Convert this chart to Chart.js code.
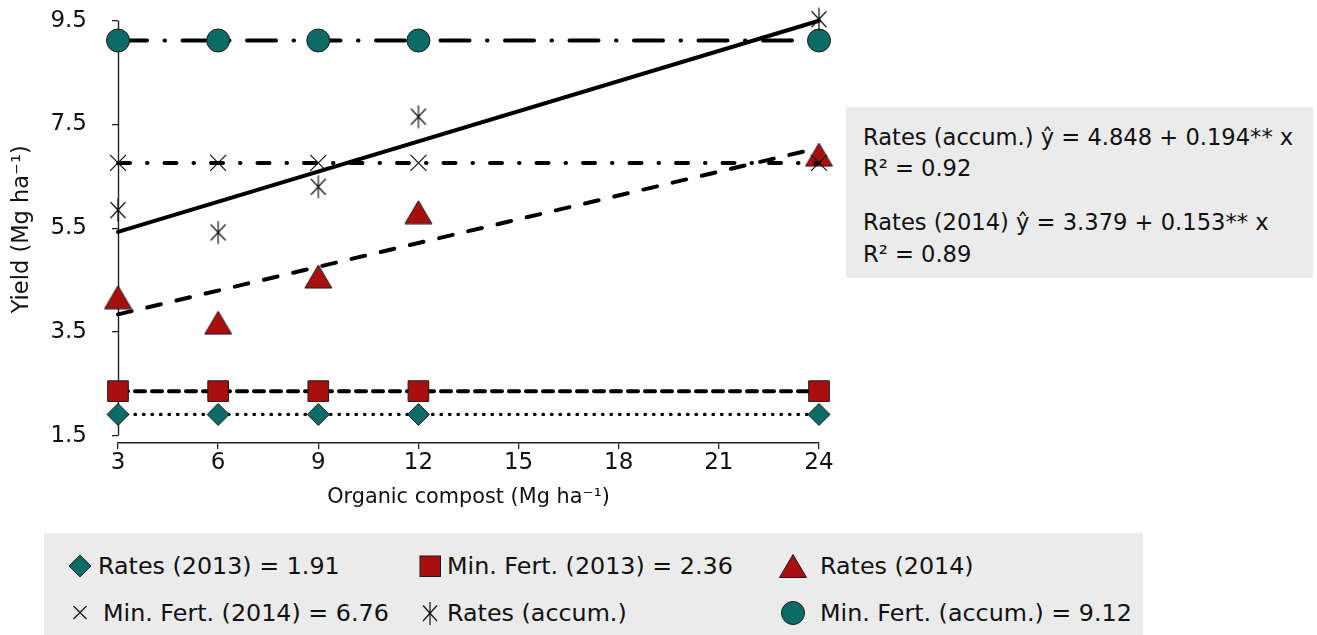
<!DOCTYPE html>
<html><head><meta charset="utf-8">
<script src="https://cdn.jsdelivr.net/npm/chart.js@4.4.1/dist/chart.umd.min.js"></script>
<style>
html,body{margin:0;padding:0;background:#fff;width:1317px;height:635px;overflow:hidden;font-family:"DejaVu Sans",sans-serif;color:#111;}
#c{position:absolute;left:0;top:0;}
.box{position:absolute;background:#ebebeb;}
.t{position:absolute;white-space:nowrap;font-size:22.6px;line-height:30px;color:#111;}
.lg{position:absolute;white-space:nowrap;font-size:23.8px;line-height:30px;color:#111;}
svg{position:absolute;left:0;top:0;}
</style></head>
<body>
<canvas id="c" width="1317" height="635"></canvas>
<div class="box" style="left:846px;top:107px;width:467px;height:171px"></div>
<div class="box" style="left:44px;top:533px;width:1099px;height:102px"></div>
<div id="txt"></div>
<svg width="1317" height="635" id="legsvg"></svg>
<script>
// ---- data ----
const compostRates = [3, 6, 9, 12, 24];
const xTickStep = 3;
const yTicks = [1.5, 3.5, 5.5, 7.5, 9.5];
const rates2013 = [1.91, 1.91, 1.91, 1.91, 1.91];
const minFert2013 = [2.36, 2.36, 2.36, 2.36, 2.36];
const rates2014 = [4.17, 3.68, 4.57, 5.81, 6.92];
const minFert2014 = [6.76, 6.76, 6.76, 6.76, 6.76];
const ratesAccum = [5.85, 5.42, 6.30, 7.65, 9.53];
const minFertAccum = [9.12, 9.12, 9.12, 9.12, 9.12];
const trendX = [3, 24];
const trendAccum = [5.43, 9.50];
const trend2014 = [3.84, 7.05];
const eqLines = ["Rates (accum.) \u0177 = 4.848 + 0.194** x", "R\u00b2 = 0.92", "Rates (2014) \u0177 = 3.379 + 0.153** x", "R\u00b2 = 0.89"];
const legendLabels = ["Rates (2013) = 1.91", "Min. Fert. (2013) = 2.36", "Rates (2014)", "Min. Fert. (2014) = 6.76", "Rates (accum.)", "Min. Fert. (accum.) = 9.12"];
const xTitle = "Organic compost (Mg ha\u207b\u00b9)";
const yTitle = "Yield (Mg ha\u207b\u00b9)";

const TEAL = '#0c6b66', RED = '#a90f0f', EDGE = '#1c1c1c', INK = '#111';
const FONT = '"DejaVu Sans", sans-serif';

function pts(xs, ys){ return xs.map((x,i)=>({x:x, y:ys[i]})); }

function makeTri(w,h,fill){
  const c=document.createElement('canvas'); c.width=w+2; c.height=h+2;
  const g=c.getContext('2d');
  g.beginPath(); g.moveTo((w+2)/2,1); g.lineTo(w+1,h+1); g.lineTo(1,h+1); g.closePath();
  g.fillStyle=fill; g.fill(); g.lineWidth=1; g.strokeStyle=EDGE; g.stroke();
  return c;
}
function makeAst(){
  const c=document.createElement('canvas'); c.width=18; c.height=26;
  const g=c.getContext('2d'); g.strokeStyle=INK; g.lineWidth=1.2;
  g.beginPath(); g.moveTo(9,1.5); g.lineTo(9,24.5);
  g.moveTo(1.5,5); g.lineTo(16.5,21); g.moveTo(16.5,5); g.lineTo(1.5,21); g.stroke();
  return c;
}
const triImg = makeTri(27,23,RED);
const astImg = makeAst();

const axisLine = {
  id:'axisLine',
  beforeDatasetsDraw(chart){
    const xs=chart.scales.x, ys=chart.scales.y, ctx=chart.ctx;
    const px=Math.round(xs.getPixelForValue(compostRates[0]))+0.5;
    ctx.save(); ctx.strokeStyle='#222'; ctx.lineWidth=1.4;
    ctx.beginPath();
    ctx.moveTo(px, ys.getPixelForValue(yTicks[yTicks.length-1]));
    ctx.lineTo(px, ys.getPixelForValue(yTicks[0]));
    ctx.stroke(); ctx.restore();
  }
};

const common = {clip:false, fill:false, tension:0, borderCapStyle:'round'};
const datasets = [
  Object.assign({label:legendLabels[3], data:pts(compostRates,minFert2014), borderColor:'#000', borderWidth:4, borderDash:[12,17,0.5,17],
    pointStyle:'crossRot', pointRadius:11.3, pointBorderColor:INK, pointBorderWidth:1.2, pointBackgroundColor:'rgba(0,0,0,0)'}, common),
  Object.assign({label:legendLabels[4], data:pts(compostRates,ratesAccum), showLine:false,
    pointStyle:astImg, pointRadius:12}, common),
  Object.assign({label:legendLabels[5], data:pts(compostRates,minFertAccum), borderColor:'#000', borderWidth:4, borderDash:[29,17.5,0.5,17.5],
    pointStyle:'circle', pointRadius:11.5, pointBackgroundColor:TEAL, pointBorderColor:EDGE, pointBorderWidth:1}, common),
  Object.assign({label:legendLabels[2], data:pts(compostRates,rates2014), showLine:false,
    pointStyle:triImg, pointRadius:13}, common),
  Object.assign({label:legendLabels[1], data:pts(compostRates,minFert2013), borderColor:'#000', borderWidth:4, borderDash:[10,7],
    pointStyle:'rect', pointRadius:14.6, pointBackgroundColor:RED, pointBorderColor:EDGE, pointBorderWidth:1}, common),
  Object.assign({label:legendLabels[0], data:pts(compostRates,rates2013), borderColor:'#000', borderWidth:3.3, borderDash:[0.5,8],
    pointStyle:'rectRot', pointRadius:11, pointBackgroundColor:TEAL, pointBorderColor:EDGE, pointBorderWidth:1}, common),
  Object.assign({label:'trend accum', data:pts(trendX,trendAccum), borderColor:'#000', borderWidth:4, pointRadius:0}, common),
  Object.assign({label:'trend 2014', data:pts(trendX,trend2014), borderColor:'#000', borderWidth:4, borderDash:[14,16], pointRadius:0}, common)
];

const chart = new Chart(document.getElementById('c'), {
  type:'line',
  data:{datasets:datasets},
  options:{
    responsive:false, animation:false, devicePixelRatio:1,
    layout:{padding:{left:0, right:498, top:10.4, bottom:125.4}},
    plugins:{legend:{display:false}, tooltip:{enabled:false}},
    scales:{
      x:{type:'linear', min:compostRates[0], max:compostRates[compostRates.length-1],
        ticks:{stepSize:xTickStep, font:{family:FONT, size:23}, color:INK, padding:0, maxRotation:0, autoSkip:false},
        grid:{display:true, drawOnChartArea:false, drawTicks:true, tickLength:6, color:'#222', lineWidth:1.3},
        border:{display:true, color:'#222', width:1.4},
        title:{display:true, text:xTitle, font:{family:FONT, size:20.8}, color:INK, padding:0},
        afterFit(s){ s.height=66.6; s.paddingLeft=0; s.paddingRight=0; s.paddingTop=0; s.paddingBottom=0; }
      },
      y:{type:'linear', min:1.36, max:9.6, bounds:'data', grace:0,
        afterBuildTicks(s){ s.ticks = yTicks.map(v=>({value:v})); },
        ticks:{font:{family:FONT, size:23}, color:INK, padding:25, autoSkip:false, callback:(v)=>Number(v).toFixed(1)},
        grid:{display:true, drawOnChartArea:false, drawTicks:true, tickLength:6, color:'#222', lineWidth:1.3},
        border:{display:false},
        title:{display:true, text:yTitle, font:{family:FONT, size:22.5}, color:INK, padding:{top:9, bottom:0}},
        afterFit(s){ s.width=118; s.paddingTop=0; s.paddingBottom=0; s.paddingLeft=0; s.paddingRight=0; }
      }
    }
  },
  plugins:[axisLine]
});

// ---- equation box and legend (HTML text) ----
const txt = document.getElementById('txt');
const eqTops = [122, 153, 207, 239];
eqLines.forEach((s,i)=>{ const d=document.createElement('div'); d.className='t'; d.style.left='863px'; d.style.top=eqTops[i]+'px'; d.textContent=s; txt.appendChild(d); });
const legPos = [[98,551],[447,551],[820,551],[103,598],[447,598],[820,598]];
legendLabels.forEach((s,i)=>{ const d=document.createElement('div'); d.className='lg'; d.style.left=legPos[i][0]+'px'; d.style.top=legPos[i][1]+'px'; d.textContent=s; txt.appendChild(d); });
const svg = document.getElementById('legsvg');
svg.innerHTML =
  '<polygon points="80,555 91,566 80,577 69,566" fill="'+TEAL+'" stroke="'+EDGE+'" stroke-width="1"/>' +
  '<rect x="420" y="556" width="20.5" height="20.5" fill="'+RED+'" stroke="'+EDGE+'" stroke-width="1"/>' +
  '<polygon points="793,554.5 806.5,577.5 779.5,577.5" fill="'+RED+'" stroke="'+EDGE+'" stroke-width="1"/>' +
  '<path d="M73.5,606 L86.5,619 M86.5,606 L73.5,619" stroke="'+INK+'" stroke-width="1.2"/>' +
  '<path d="M430,602 L430,625 M423,605.5 L437,621 M437,605.5 L423,621" stroke="'+INK+'" stroke-width="1.2"/>' +
  '<circle cx="793" cy="613" r="11.5" fill="'+TEAL+'" stroke="'+EDGE+'" stroke-width="1"/>';
</script>
</body></html>
